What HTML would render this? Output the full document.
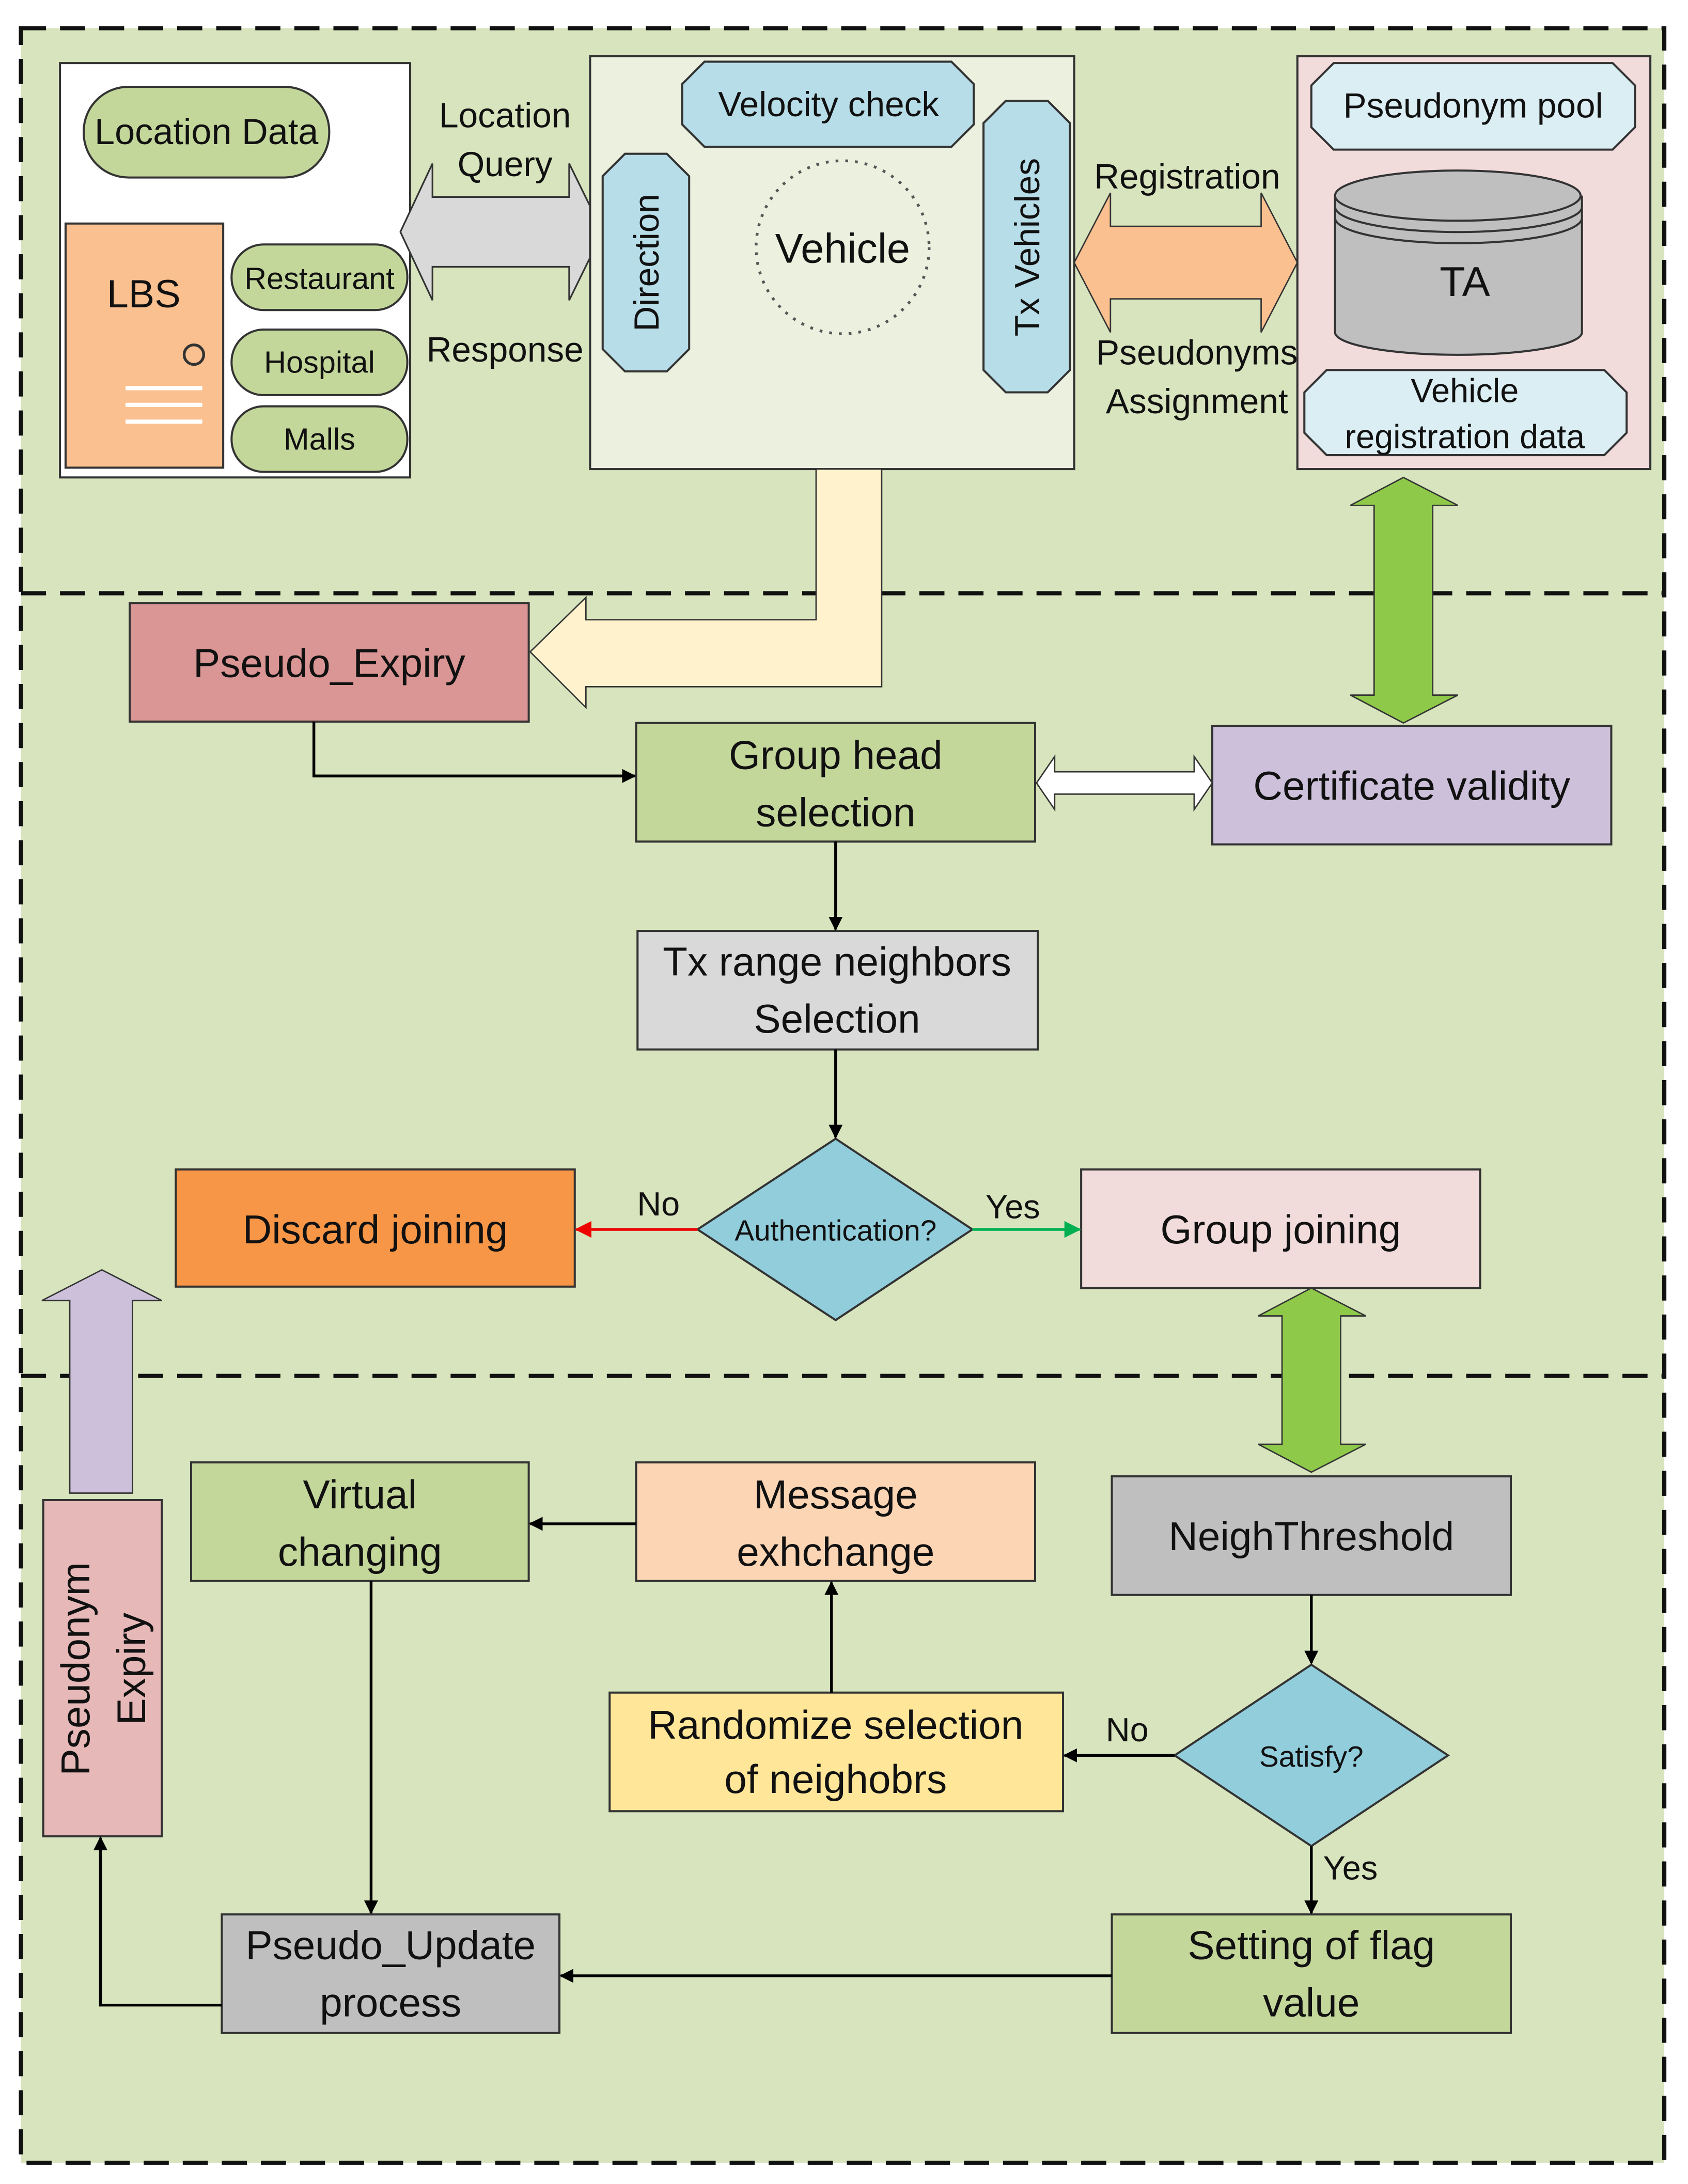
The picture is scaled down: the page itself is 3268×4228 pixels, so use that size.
<!DOCTYPE html>
<html><head><meta charset="utf-8"><style>
html,body{margin:0;padding:0;background:#fff}
svg{display:block}
text{font-family:"Liberation Sans",sans-serif;fill:#111}
</style></head><body>
<svg width="3268" height="4228" viewBox="0 0 1210 1565" xmlns="http://www.w3.org/2000/svg">
<defs>
<marker id="ab" markerWidth="10" markerHeight="10" refX="9" refY="5" orient="auto" markerUnits="userSpaceOnUse"><path d="M0,0 L10,5 L0,10 z" fill="#000"/></marker>
<marker id="ar" markerWidth="12" markerHeight="12" refX="11" refY="6" orient="auto" markerUnits="userSpaceOnUse"><path d="M0,0 L12,6 L0,12 z" fill="#e00"/></marker>
<marker id="ag" markerWidth="12" markerHeight="12" refX="11" refY="6" orient="auto" markerUnits="userSpaceOnUse"><path d="M0,0 L12,6 L0,12 z" fill="#00b050"/></marker>
</defs>
<rect x="0" y="0" width="1210" height="1565" fill="#fff"/>
<rect x="15" y="20" width="1178" height="1530" fill="#d7e4bd"/>
<rect x="15" y="20" width="1178" height="1530" fill="none" stroke="#111" stroke-width="3" stroke-dasharray="18,10"/>
<line x1="15" y1="425" x2="1193" y2="425" stroke="#111" stroke-width="3" stroke-dasharray="18,10"/>
<line x1="15" y1="986" x2="1193" y2="986" stroke="#111" stroke-width="3" stroke-dasharray="18,10"/>

<g stroke="#333" stroke-width="1.5">
<rect x="43" y="45" width="251" height="297" fill="#fff"/>
<rect x="60" y="62" width="176" height="65" rx="32" fill="#c4d79b"/>
<rect x="47" y="160" width="113" height="175" fill="#fac090"/>
<circle cx="139" cy="254" r="7" fill="none" stroke-width="2"/>
<rect x="166" y="175" width="126" height="47" rx="23" fill="#c4d79b"/>
<rect x="166" y="236" width="126" height="47" rx="23" fill="#c4d79b"/>
<rect x="166" y="291" width="126" height="47" rx="23" fill="#c4d79b"/>
</g>
<g stroke="#fff" stroke-width="3"><line x1="90" y1="278" x2="145" y2="278"/><line x1="90" y1="290" x2="145" y2="290"/><line x1="90" y1="302" x2="145" y2="302"/></g>
<text x="148" y="103" font-size="26" text-anchor="middle">Location Data</text>
<text x="103" y="220" font-size="28" text-anchor="middle">LBS</text>
<text x="229" y="207" font-size="22" text-anchor="middle">Restaurant</text>
<text x="229" y="267" font-size="22" text-anchor="middle">Hospital</text>
<text x="229" y="322" font-size="22" text-anchor="middle">Malls</text>

<polygon points="287,166 310,117 310,141 408,141 408,117 432,166 408,215 408,191 310,191 310,215" fill="#d9d9d9" stroke="#333" stroke-width="1.2"/>
<text x="362" y="91" font-size="25" text-anchor="middle">Location</text>
<text x="362" y="126" font-size="25" text-anchor="middle">Query</text>
<text x="362" y="259" font-size="25" text-anchor="middle">Response</text>

<rect x="423" y="40" width="347" height="296" fill="#ebf1de" stroke="#333" stroke-width="1.5"/>
<polygon points="505,44 682,44 698,60 698,89 682,105 505,105 489,89 489,60" fill="#b7dde8" stroke="#333" stroke-width="1.5"/>
<text x="594" y="83" font-size="25" text-anchor="middle">Velocity check</text>
<polygon points="448,110 478,110 494,126 494,250 478,266 448,266 432,250 432,126" fill="#b7dde8" stroke="#333" stroke-width="1.5"/>
<text transform="translate(472,188) rotate(-90)" font-size="25" text-anchor="middle">Direction</text>
<polygon points="721,72 751,72 767,88 767,265 751,281 721,281 705,265 705,88" fill="#b7dde8" stroke="#333" stroke-width="1.5"/>
<text transform="translate(745,177) rotate(-90)" font-size="25" text-anchor="middle">Tx Vehicles</text>
<circle cx="604" cy="177" r="62" fill="none" stroke="#555" stroke-width="2" stroke-dasharray="2,5"/>
<text x="604" y="188" font-size="30" text-anchor="middle">Vehicle</text>

<polygon points="770,188 796,138 796,162 904,162 904,138 930,188 904,238 904,214 796,214 796,238" fill="#fac090" stroke="#333" stroke-width="1"/>
<text x="851" y="135" font-size="25" text-anchor="middle">Registration</text>
<text x="858" y="261" font-size="25" text-anchor="middle">Pseudonyms</text>
<text x="858" y="296" font-size="25" text-anchor="middle">Assignment</text>

<rect x="930" y="40" width="253" height="296" fill="#f2dcdb" stroke="#333" stroke-width="1.5"/>
<polygon points="956,45 1156,45 1172,61 1172,91 1156,107 956,107 940,91 940,61" fill="#dbeef4" stroke="#333" stroke-width="1.5"/>
<text x="1056" y="84" font-size="25" text-anchor="middle">Pseudonym pool</text>
<path d="M957,140 L957,238 A88,16 0 0 0 1134,238 L1134,140" fill="#bfbfbf" stroke="#333" stroke-width="1.5"/>
<ellipse cx="1045" cy="140" rx="88" ry="18" fill="#bfbfbf" stroke="#333" stroke-width="1.5"/>
<path d="M957,148 A88,18 0 0 0 1134,148 M957,156 A88,18 0 0 0 1134,156" fill="none" stroke="#333" stroke-width="1.5"/>
<text x="1050" y="212" font-size="30" text-anchor="middle">TA</text>
<polygon points="951,265 1150,265 1166,281 1166,310 1150,326 951,326 935,310 935,281" fill="#dbeef4" stroke="#333" stroke-width="1.5"/>
<text x="1050" y="288" font-size="24" text-anchor="middle">Vehicle</text>
<text x="1050" y="321" font-size="24" text-anchor="middle">registration data</text>

<polygon points="585,336 632,336 632,492 420,492 420,507 380,467 420,428 420,444 585,444" fill="#fff2cc" stroke="#333" stroke-width="1"/>
<polygon points="1006,342 1045,362 1027,362 1027,498 1045,498 1006,518 968,498 985,498 985,362 968,362" fill="#8fc94a" stroke="#333" stroke-width="1"/>

<g stroke="#333" stroke-width="1.5">
<rect x="93" y="432" width="286" height="85" fill="#da9694"/>
<rect x="456" y="518" width="286" height="85" fill="#c4d79b"/>
<rect x="869" y="520" width="286" height="85" fill="#ccc0da"/>
<rect x="457" y="667" width="287" height="85" fill="#d9d9d9"/>
<polygon points="599,816 697,881 599,946 500,881" fill="#92cddc"/>
<rect x="126" y="838" width="286" height="84" fill="#f79646"/>
<rect x="775" y="838" width="286" height="85" fill="#f2dcdb"/>
</g>
<polygon points="743,561 756,542 756,553 856,553 856,542 869,561 856,580 856,569 756,569 756,580" fill="#fff" stroke="#333" stroke-width="1"/>
<text x="236" y="485" font-size="29" text-anchor="middle">Pseudo_Expiry</text>
<text x="599" y="551" font-size="29" text-anchor="middle">Group head</text>
<text x="599" y="592" font-size="29" text-anchor="middle">selection</text>
<text x="1012" y="573" font-size="29" text-anchor="middle">Certificate validity</text>
<text x="600" y="699" font-size="29" text-anchor="middle">Tx range neighbors</text>
<text x="600" y="740" font-size="29" text-anchor="middle">Selection</text>
<text x="599" y="889" font-size="21" text-anchor="middle">Authentication?</text>
<text x="269" y="891" font-size="29" text-anchor="middle">Discard joining</text>
<text x="918" y="891" font-size="29" text-anchor="middle">Group joining</text>
<text x="472" y="871" font-size="24" text-anchor="middle">No</text>
<text x="726" y="873" font-size="24" text-anchor="middle">Yes</text>
<g stroke="#000" stroke-width="2" fill="none">
<polyline points="225,517 225,556 455,556" marker-end="url(#ab)"/>
<line x1="599" y1="603" x2="599" y2="666" marker-end="url(#ab)"/>
<line x1="599" y1="752" x2="599" y2="815" marker-end="url(#ab)"/>
</g>
<line x1="500" y1="881" x2="413" y2="881" stroke="#e00" stroke-width="2" marker-end="url(#ar)"/>
<line x1="697" y1="881" x2="774" y2="881" stroke="#00b050" stroke-width="2" marker-end="url(#ag)"/>

<polygon points="940,923 979,943 961,943 961,1035 979,1035 940,1055 902,1035 919,1035 919,943 902,943" fill="#8fc94a" stroke="#333" stroke-width="1"/>
<polygon points="73,910 116,932 95,932 95,1070 50,1070 50,932 30,932" fill="#ccc0da" stroke="#333" stroke-width="1"/>

<g stroke="#333" stroke-width="1.5">
<rect x="31" y="1075" width="85" height="241" fill="#e6b9b8"/>
<rect x="137" y="1048" width="242" height="85" fill="#c4d79b"/>
<rect x="456" y="1048" width="286" height="85" fill="#fcd5b4"/>
<rect x="797" y="1058" width="286" height="85" fill="#bfbfbf"/>
<polygon points="940,1193 1038,1258 940,1323 842,1258" fill="#92cddc"/>
<rect x="437" y="1213" width="325" height="85" fill="#ffe699"/>
<rect x="797" y="1372" width="286" height="85" fill="#c4d79b"/>
<rect x="159" y="1372" width="242" height="85" fill="#bfbfbf"/>
</g>
<text transform="translate(64,1196) rotate(-90)" font-size="29" text-anchor="middle">Pseudonym</text>
<text transform="translate(104,1196) rotate(-90)" font-size="29" text-anchor="middle">Expiry</text>
<text x="258" y="1081" font-size="29" text-anchor="middle">Virtual</text>
<text x="258" y="1122" font-size="29" text-anchor="middle">changing</text>
<text x="599" y="1081" font-size="29" text-anchor="middle">Message</text>
<text x="599" y="1122" font-size="29" text-anchor="middle">exhchange</text>
<text x="940" y="1111" font-size="29" text-anchor="middle">NeighThreshold</text>
<text x="940" y="1266" font-size="21" text-anchor="middle">Satisfy?</text>
<text x="599" y="1246" font-size="29" text-anchor="middle">Randomize selection</text>
<text x="599" y="1285" font-size="29" text-anchor="middle">of neighobrs</text>
<text x="940" y="1404" font-size="29" text-anchor="middle">Setting of flag</text>
<text x="940" y="1445" font-size="29" text-anchor="middle">value</text>
<text x="280" y="1404" font-size="29" text-anchor="middle">Pseudo_Update</text>
<text x="280" y="1445" font-size="29" text-anchor="middle">process</text>
<text x="808" y="1248" font-size="24" text-anchor="middle">No</text>
<text x="968" y="1347" font-size="24" text-anchor="middle">Yes</text>
<g stroke="#000" stroke-width="2" fill="none">
<line x1="456" y1="1092" x2="380" y2="1092" marker-end="url(#ab)"/>
<line x1="940" y1="1143" x2="940" y2="1192" marker-end="url(#ab)"/>
<line x1="842" y1="1258" x2="763" y2="1258" marker-end="url(#ab)"/>
<line x1="940" y1="1323" x2="940" y2="1371" marker-end="url(#ab)"/>
<line x1="596" y1="1213" x2="596" y2="1134" marker-end="url(#ab)"/>
<line x1="266" y1="1133" x2="266" y2="1371" marker-end="url(#ab)"/>
<line x1="797" y1="1416" x2="402" y2="1416" marker-end="url(#ab)"/>
<polyline points="159,1437 72,1437 72,1317" marker-end="url(#ab)"/>
</g>
</svg>
</body></html>
